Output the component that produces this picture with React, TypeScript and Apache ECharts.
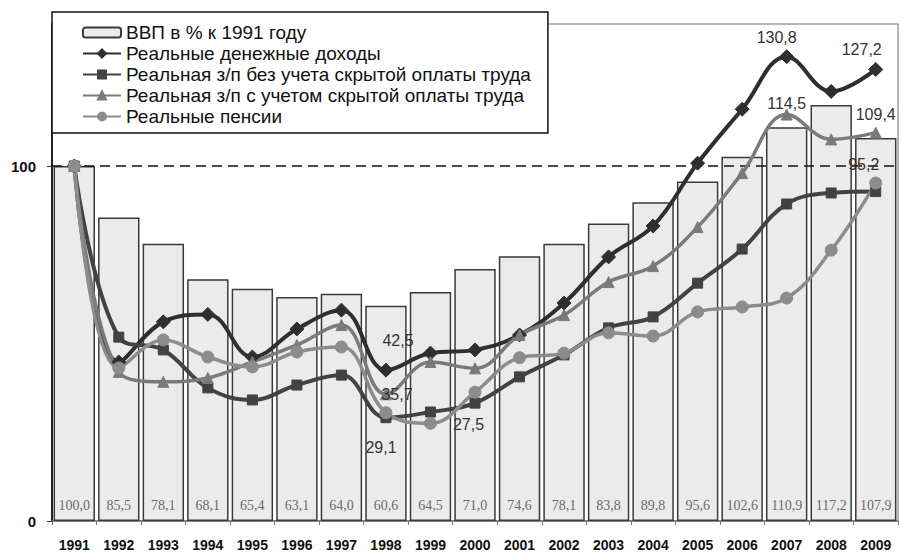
import React, { useEffect, useRef } from "react";
import * as echarts from "echarts";

const years = ["1991","1992","1993","1994","1995","1996","1997","1998","1999","2000","2001","2002","2003","2004","2005","2006","2007","2008","2009"];
const gdp = [100.0, 85.5, 78.1, 68.1, 65.4, 63.1, 64.0, 60.6, 64.5, 71.0, 74.6, 78.1, 83.8, 89.8, 95.6, 102.6, 110.9, 117.2, 107.9];
const moneyIncome = [100, 44.8, 56.1, 58.2, 46.2, 54.1, 59.4, 42.5, 47.3, 48.2, 52.4, 61.4, 74.4, 83.1, 100.8, 116.0, 130.8, 121.0, 127.2];
const wageNoHidden = [100, 51.8, 48.2, 37.5, 34.1, 38.3, 41.1, 29.1, 30.7, 33.2, 40.6, 46.8, 54.4, 57.5, 67.0, 76.6, 89.3, 92.4, 92.8];
const wageHidden = [100, 42.0, 39.2, 40.3, 44.8, 49.6, 55.2, 35.7, 44.8, 43.0, 52.4, 58.0, 67.3, 71.8, 82.8, 98.0, 114.5, 107.5, 109.4];
const pensions = [100, 43.1, 51.0, 46.2, 43.4, 47.6, 49.0, 30.5, 27.5, 36.3, 46.0, 47.3, 53.0, 52.1, 58.9, 60.3, 62.8, 76.3, 95.2];
const yTickLabels = [0, 100];

const names = [
  "ВВП в % к 1991 году",
  "Реальные денежные доходы",
  "Реальная з/п без учета скрытой оплаты труда",
  "Реальная з/п с учетом скрытой оплаты труда",
  "Реальные пенсии",
];

const comma = (v: number) => v.toFixed(1).replace(".", ",");
const SANS = "'Liberation Sans', Arial, sans-serif";

type LabelSpec = { i: number; position: string; distance?: number; offset?: [number, number] };

function withLabels(values: number[], specs: LabelSpec[]) {
  return values.map((v, idx) => {
    const s = specs.find((x) => x.i === idx);
    if (!s) return v;
    return {
      value: v,
      label: {
        show: true,
        position: s.position,
        distance: s.distance ?? 5,
        offset: s.offset ?? [0, 0],
        formatter: (p: any) => comma(p.value),
        fontFamily: SANS,
        fontSize: 16,
        color: "#333",
      },
    };
  });
}

export default function App() {
  const ref = useRef<HTMLDivElement>(null);
  useEffect(() => {
    if (!ref.current) return;
    const chart = echarts.init(ref.current, undefined, { renderer: "svg" });
    const lineSeries = (
      name: string,
      data: any[],
      color: string,
      width: number,
      symbol: string,
      symbolSize: number
    ) => ({
      name,
      type: "line",
      data,
      smooth: 0.4,
      symbol,
      symbolSize,
      showAllSymbol: true,
      lineStyle: { color, width },
      itemStyle: { color, borderColor: color, borderWidth: 1 },
      z: 3,
    });
    chart.setOption({
      animation: false,
      backgroundColor: "#ffffff",
      grid: {
        left: 52,
        right: 4,
        top: 24,
        bottom: 33,
        show: true,
        borderColor: "#a0a0a0",
        borderWidth: 1.5,
        backgroundColor: "transparent",
      },
      legend: {
        orient: "vertical",
        left: 52,
        top: 12,
        backgroundColor: "#ffffff",
        borderColor: "#111",
        borderWidth: 1.5,
        padding: [11, 17, 7, 30],
        itemWidth: 38,
        itemHeight: 10,
        itemGap: 2,
        data: names,
        textStyle: { fontFamily: SANS, fontSize: 19, color: "#111", lineHeight: 19 },
        z: 10,
      },
      xAxis: {
        type: "category",
        data: years,
        axisLine: { lineStyle: { color: "#777", width: 1.5 } },
        axisTick: { show: true, length: 4, lineStyle: { color: "#777" } },
        axisLabel: {
          fontFamily: SANS,
          fontSize: 14,
          fontWeight: "bold",
          color: "#111",
          margin: 17,
          interval: 0,
        },
        splitLine: { show: false },
      },
      yAxis: {
        type: "value",
        min: 0,
        max: 140,
        interval: 20,
        axisLine: { show: true, lineStyle: { color: "#222", width: 2 } },
        axisTick: { show: true, length: 5, customValues: yTickLabels, lineStyle: { color: "#333" } },
        axisLabel: {
          customValues: yTickLabels,
          fontFamily: SANS,
          fontSize: 15,
          fontWeight: "bold",
          color: "#111",
          margin: 16,
        },
        splitLine: { show: false },
      },
      series: [
        {
          name: names[0],
          type: "bar",
          data: gdp,
          barCategoryGap: "7%",
          itemStyle: { color: "#ebebeb", borderColor: "#3a3a3a", borderWidth: 1.5 },
          label: {
            show: true,
            position: "insideBottom",
            distance: 9,
            formatter: (p: any) => comma(p.value),
            fontFamily: "'Liberation Serif', 'Times New Roman', serif",
            fontSize: 14,
            color: "#6a6a6a",
          },
          markLine: {
            silent: true,
            symbol: "none",
            label: { show: false },
            lineStyle: { color: "#111", type: [10, 6], width: 1.5 },
            data: [{ yAxis: 100 }],
            z: 2,
          },
          z: 1,
        },
        lineSeries(
          names[1],
          withLabels(moneyIncome, [
            { i: 16, position: "top", distance: 4, offset: [-10, 0] },
            { i: 18, position: "top", distance: 4, offset: [-14, 0] },
            { i: 7, position: "top", distance: 14, offset: [12, 0] },
          ]),
          "#2f2f2f",
          4,
          "diamond",
          14
        ),
        lineSeries(
          names[2],
          withLabels(wageNoHidden, [{ i: 7, position: "bottom", distance: 16, offset: [-5, 0] }]),
          "#424242",
          4,
          "rect",
          10
        ),
        lineSeries(
          names[3],
          withLabels(wageHidden, [
            { i: 16, position: "top", distance: 0, offset: [0, 3] },
            { i: 18, position: "top", distance: 4, offset: [0, 0] },
            { i: 7, position: "inside", offset: [11, 0] },
          ]),
          "#7a7a7a",
          3.5,
          "triangle",
          11
        ),
        lineSeries(
          names[4],
          withLabels(pensions, [
            { i: 18, position: "top", distance: 4, offset: [-12, 0] },
            { i: 8, position: "right", distance: 16, offset: [0, 1] },
          ]),
          "#8c8c8c",
          3.5,
          "circle",
          12
        ),
      ],
    });
    return () => chart.dispose();
  }, []);
  return (
    <div
      ref={ref}
      style={{ position: "fixed", left: 0, top: 0, width: 902, height: 554, background: "#fff" }}
    />
  );
}
